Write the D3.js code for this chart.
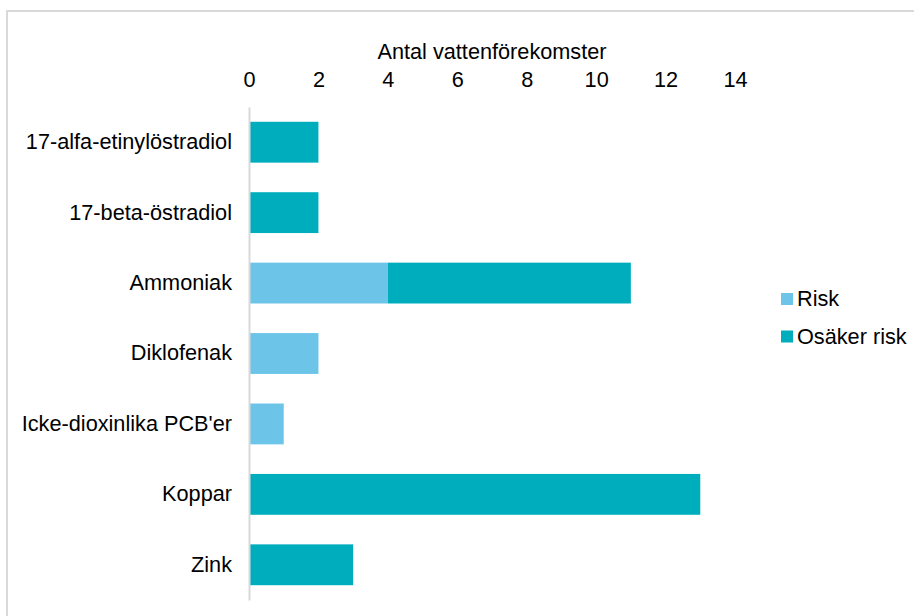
<!DOCTYPE html>
<html>
<head>
<meta charset="utf-8">
<script src="https://cdn.jsdelivr.net/npm/d3@7"></script>
<style>
  html, body { margin: 0; padding: 0; background: #fff; }
  svg { display: block; font-family: "Liberation Sans", Arial, sans-serif; }
</style>
</head>
<body>
<svg id="chart" width="914" height="616"></svg>
<script>
// Ämnen och antal vattenförekomster per riskklass
const categories = [
  "17-alfa-etinylöstradiol",
  "17-beta-östradiol",
  "Ammoniak",
  "Diklofenak",
  "Icke-dioxinlika PCB'er",
  "Koppar",
  "Zink"
];
const risk       = [0, 0, 4, 2, 1, 0, 0];
const osakerRisk = [2, 2, 7, 0, 0, 13, 3];
const seriesNames = ["Risk", "Osäker risk"];
const seriesColors = ["#6cc4e8", "#00adbd"];
const xTicks = [0, 2, 4, 6, 8, 10, 12, 14];
const axisTitle = "Antal vattenförekomster";

const FS = 21.7;
const svg = d3.select("#chart");

// Ram runt diagrammet
svg.append("rect")
  .attr("x", 7).attr("y", 11)
  .attr("width", 940).attr("height", 640)
  .attr("fill", "none")
  .attr("stroke", "#d9d9d9")
  .attr("stroke-width", 2);

const x = d3.scaleLinear().domain([0, 14]).range([249, 735]);
const y = d3.scaleBand().domain(categories).range([107, 600]).paddingInner(0.42).paddingOuter(0.21);

const rows = categories.map((c, i) => ({ cat: c, vals: [risk[i], osakerRisk[i]] }));
const stacked = d3.stack().keys([0, 1]).value((d, k) => d.vals[k])(rows);

svg.append("g").selectAll("g")
  .data(stacked)
  .join("g")
  .attr("fill", (d, i) => seriesColors[i])
  .selectAll("rect")
  .data(d => d.filter(p => p[1] - p[0] > 0))
  .join("rect")
  .attr("x", d => x(d[0]))
  .attr("width", d => x(d[1]) - x(d[0]))
  .attr("y", d => y(d.data.cat))
  .attr("height", y.bandwidth());

// Övre x-axel med etiketter
const xAxis = d3.axisTop(x).tickValues(xTicks).tickSize(0).tickPadding(0);
const gx = svg.append("g").attr("transform", "translate(0,87)").call(xAxis);
gx.select(".domain").remove();
gx.selectAll("text").attr("font-size", FS).attr("fill", "#000")
  .attr("font-family", "Liberation Sans, Arial, sans-serif");

svg.append("text")
  .attr("x", x(7)).attr("y", 58.5)
  .attr("text-anchor", "middle")
  .attr("font-size", FS)
  .attr("fill", "#000")
  .text(axisTitle);

// Y-axel
const yAxis = d3.axisLeft(y).tickSize(0).tickPadding(17);
const gy = svg.append("g").attr("transform", `translate(${x(0)},0)`).call(yAxis);
gy.select(".domain").attr("stroke", "#d9d9d9").attr("stroke-width", 2);
gy.selectAll("text").attr("font-size", FS).attr("fill", "#000")
  .attr("font-family", "Liberation Sans, Arial, sans-serif");

// Förklaring
const legend = svg.append("g");
seriesNames.forEach((name, i) => {
  const top = 293 + i * 37.5;
  legend.append("rect")
    .attr("x", 781).attr("y", top)
    .attr("width", 12).attr("height", 12)
    .attr("fill", seriesColors[i]);
  legend.append("text")
    .attr("x", 797).attr("y", top + 13)
    .attr("font-size", FS)
    .attr("fill", "#000")
    .text(name);
});
</script>
</body>
</html>
